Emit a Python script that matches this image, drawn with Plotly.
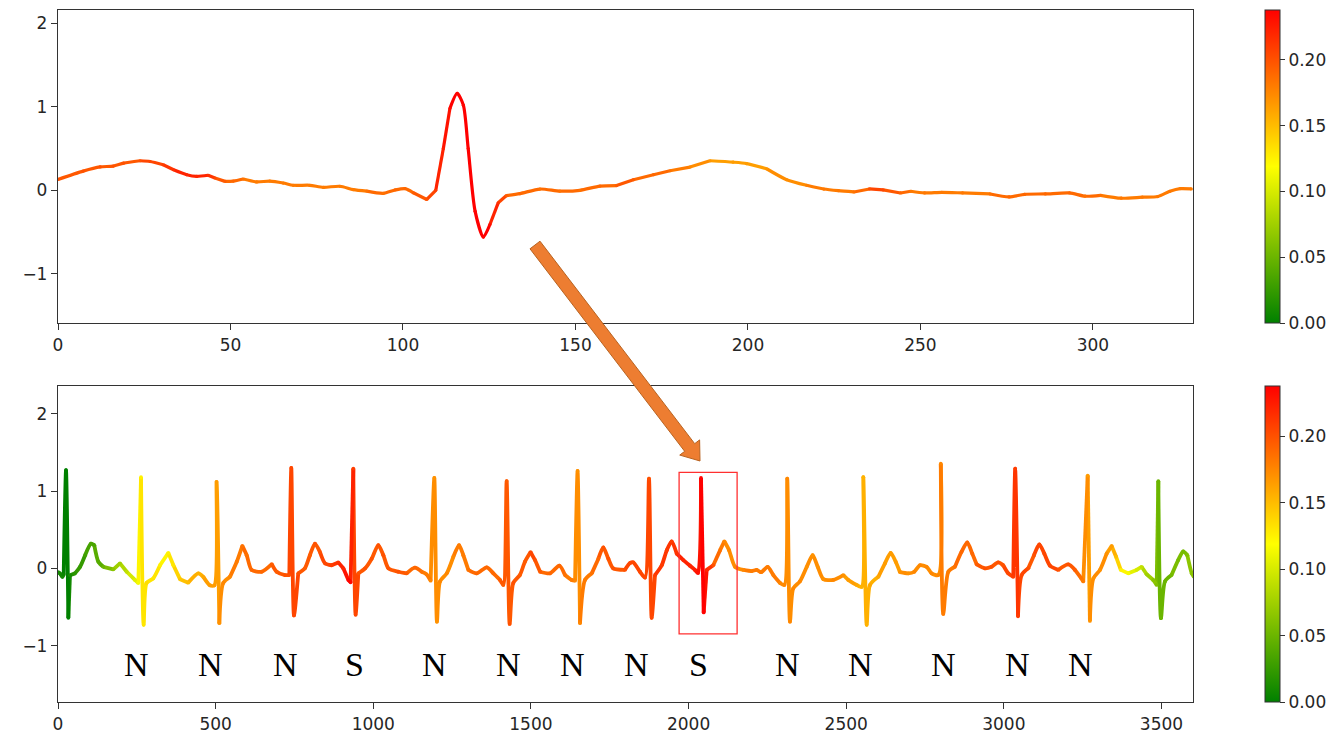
import math
import plotly.graph_objects as go

# ---------------- data ----------------
top_x = [0, 7.3, 12.2, 16, 19, 23.8, 26.7, 30.5, 33.5, 37.3, 40.2, 43.5, 45.5, 48.4, 50.8,
         53.7, 57.6, 61.4, 65.3, 68.2, 73, 76.9, 81.7, 85.6, 89.5, 94.3, 97.7, 100.6, 103,
         106.9, 109.5, 111.7, 113.6, 115.7, 117.5, 118.9, 120.9, 123.3, 125.2, 127.6, 130,
         133.9, 139.7, 145.5, 151.3, 157.1, 161.9, 166.8, 172.6, 177.4, 183.2, 189, 195.7,
         199.6, 205.4, 211.2, 217, 222, 226.2, 230.7, 235.2, 239.2, 244.2, 247.2, 251.2,
         256.2, 262.2, 270.2, 275.7, 280.2, 286.2, 293.2, 297.7, 302.2, 308.2, 314.3, 318.8,
         322.3, 325.3, 328.5]
top_y = [0.13, 0.23, 0.28, 0.29, 0.325, 0.354, 0.345, 0.306, 0.246, 0.187, 0.167, 0.18, 0.147,
         0.107, 0.11, 0.135, 0.1, 0.11, 0.087, 0.06, 0.06, 0.036, 0.048, 0.008, -0.01, -0.036,
         0.004, 0.02, -0.03, -0.11, 0.0, 0.5, 0.98, 1.16, 1.02, 0.5, -0.25, -0.56, -0.41,
         -0.15, -0.063, -0.04, 0.015, -0.01, 0.0, 0.05, 0.056, 0.127, 0.187, 0.234, 0.278,
         0.354, 0.337, 0.32, 0.258, 0.127, 0.06, 0.015, -0.005, -0.02, 0.016, 0.004, -0.032,
         -0.012, -0.032, -0.024, -0.032, -0.044, -0.08, -0.048, -0.044, -0.032, -0.071, -0.06,
         -0.095, -0.083, -0.075, -0.012, 0.02, 0.016]
top_w = [0.2, 0.2, 0.2, 0.2, 0.2, 0.2, 0.205, 0.21, 0.215, 0.22, 0.22, 0.215, 0.205,
         0.195, 0.19, 0.185, 0.18, 0.18, 0.18, 0.18, 0.18, 0.18, 0.18, 0.18, 0.185, 0.185,
         0.19, 0.19, 0.195, 0.2, 0.21, 0.225, 0.232, 0.236, 0.236, 0.236, 0.236, 0.236, 0.232,
         0.215, 0.195, 0.19, 0.185, 0.185, 0.185, 0.19, 0.195, 0.195, 0.19, 0.185, 0.175, 0.168,
         0.165, 0.165, 0.168, 0.172, 0.178, 0.182, 0.182, 0.185, 0.2, 0.205, 0.19, 0.182, 0.182,
         0.182, 0.182, 0.185, 0.19, 0.19, 0.19, 0.19, 0.185, 0.185, 0.182, 0.182, 0.182, 0.182,
         0.18, 0.18]

bot_x = [0, 6, 14, 18, 25.4, 32.8, 38, 54, 70, 86, 104.7, 115, 128, 143.8, 175.5, 196.7, 218, 244, 254.8,
         263.3, 271.7, 281, 302, 323.5, 350, 366, 387, 413, 445, 461, 482, 496,
         503, 511.7, 524, 545.5, 567, 584.7, 598.5, 614, 646, 678, 693.6, 720, 733.7,
         740, 748.5, 762, 783, 799, 815, 831, 847, 868, 889, 905, 921, 928,
         936.7, 944, 952.6, 974, 995, 1016, 1032, 1048, 1079.5, 1106, 1132, 1153.5, 1169, 1182,
         1193.6, 1202, 1211.6, 1233, 1254, 1272, 1285.6, 1301.5, 1328, 1360, 1381, 1402, 1412.4,
         1423, 1432.6, 1444, 1465, 1481, 1499, 1513, 1529, 1560.5, 1590, 1608, 1629, 1640,
         1648, 1655.7, 1671.5, 1693, 1714, 1729.6, 1745.5, 1761, 1798, 1815, 1825, 1846, 1862,
         1874.5, 1883, 1893.5, 1915, 1931, 1946.5, 1962.5, 1983.5, 2004.5, 2020.5, 2030,
         2039.5, 2048, 2057.5, 2078.5, 2100, 2113.5, 2128.5, 2147.5, 2174, 2200, 2216, 2230, 2251, 2269, 2290, 2304,
         2313, 2321.7, 2332, 2353, 2375, 2393.6, 2409.6, 2427.5, 2459, 2491, 2506.7, 2533, 2549,
         2554.3, 2565, 2575.5, 2602, 2623, 2641, 2657, 2670.6, 2697, 2716, 2734, 2755, 2771, 2792,
         2800, 2808, 2824, 2845, 2866, 2884, 2900, 2914, 2940, 2961, 2982, 2998, 3014, 3030,
         3036, 3045, 3056.6, 3077.6, 3095.7, 3112.6, 3128.4, 3146.5, 3172.8, 3204.5, 3225.7, 3244, 3252,
         3266, 3273, 3284, 3305, 3326, 3342, 3356, 3371, 3395, 3421, 3437, 3453, 3474, 3484.8,
         3490, 3498.4, 3511, 3532, 3553, 3569, 3582, 3596, 3603]
bot_y = [-0.05, -0.065, -0.11, -0.08, 1.27, -0.64, -0.09, -0.065, 0.02, 0.17, 0.32, 0.3, 0.085, 0.02, -0.013, 0.065, -0.044, -0.15, -0.19,
         1.18, -0.73, -0.19, -0.13, 0.04, 0.2, 0.04, -0.14, -0.185, -0.065, -0.11, -0.22, -0.22,
         1.12, -0.71, -0.19, -0.11, 0.085, 0.29, 0.17, -0.02, -0.044, 0.055, -0.044, -0.087, -0.087,
         1.3, -0.61, -0.065, 0.0, 0.17, 0.32, 0.21, 0.065, 0.04, 0.077, 0.0, -0.15, -0.18,
         1.29, -0.6, -0.065, 0.0, 0.125, 0.3, 0.17, 0.0, -0.044, -0.065, 0.008, -0.044, -0.077, -0.16,
         1.17, -0.69, -0.17, -0.065, 0.15, 0.3, 0.17, -0.02, -0.065, 0.013, -0.065, -0.15, -0.215,
         1.13, -0.72, -0.19, -0.087, 0.085, 0.21, 0.107, -0.044, -0.065, 0.034, -0.087, -0.15, -0.16,
         1.26, -0.71, -0.15, -0.065, 0.125, 0.27, 0.125, 0.0, -0.02, 0.07, 0.077, -0.044, -0.12,
         1.16, -0.64, -0.087, 0.04, 0.235, 0.35, 0.19, 0.107, 0.034, -0.02, -0.06,
         1.17, -0.57, -0.02, 0.04, 0.235, 0.35, 0.235, 0.02, -0.02, -0.035, -0.02, -0.05, 0.02, -0.087, -0.19, -0.215,
         1.16, -0.69, -0.26, -0.17, 0.02, 0.17, 0.02, -0.14, -0.15, -0.087, -0.15, -0.215, -0.24,
         1.18, -0.73, -0.215, -0.11, 0.065, 0.2, 0.085, -0.05, -0.065, -0.044, 0.04, 0.02, -0.065, -0.087,
         1.355, -0.59, -0.044, 0.02, 0.215, 0.335, 0.19, 0.05, 0.0, 0.02, 0.077, 0.04, -0.065, -0.11,
         1.29, -0.62, -0.087, 0.0, 0.17, 0.31, 0.19, 0.034, -0.02, 0.05, -0.02, -0.12, -0.17,
         1.2, -0.68, -0.13, -0.02, 0.19, 0.29, 0.15, -0.02, -0.065, -0.02, 0.02, -0.077, -0.15, -0.215,
         1.13, -0.645, -0.17, -0.087, 0.107, 0.22, 0.17, -0.065, -0.11]
bot_w = [0.01, 0.01, 0.01, 0.005, 0.0, 0.0, 0.01, 0.02, 0.025, 0.03, 0.035, 0.035, 0.04, 0.05, 0.065, 0.075, 0.09, 0.105, 0.115,
         0.125, 0.13, 0.135, 0.13, 0.125, 0.125, 0.13, 0.145, 0.15, 0.155, 0.16, 0.165, 0.165,
         0.165, 0.17, 0.175, 0.175, 0.18, 0.185, 0.185, 0.19, 0.19, 0.195, 0.195, 0.2, 0.2,
         0.205, 0.205, 0.2, 0.195, 0.195, 0.2, 0.2, 0.205, 0.21, 0.215, 0.22, 0.235, 0.235,
         0.21, 0.205, 0.2, 0.2, 0.2, 0.2, 0.2, 0.2, 0.2, 0.195, 0.19, 0.185, 0.18, 0.175,
         0.17, 0.17, 0.175, 0.175, 0.175, 0.18, 0.18, 0.185, 0.19, 0.19, 0.19, 0.195, 0.195,
         0.195, 0.2, 0.2, 0.195, 0.195, 0.205, 0.2, 0.195, 0.19, 0.19, 0.185, 0.18, 0.175,
         0.17, 0.175, 0.18, 0.185, 0.19, 0.2, 0.2, 0.2, 0.2, 0.205, 0.205, 0.205, 0.205,
         0.2, 0.205, 0.21, 0.21, 0.21, 0.21, 0.215, 0.22, 0.22, 0.225, 0.23,
         0.237, 0.237, 0.22, 0.2, 0.185, 0.175, 0.175, 0.175, 0.175, 0.18, 0.18, 0.18, 0.18, 0.18, 0.175, 0.175,
         0.175, 0.175, 0.175, 0.175, 0.17, 0.17, 0.17, 0.17, 0.175, 0.17, 0.165, 0.16, 0.155,
         0.155, 0.155, 0.16, 0.16, 0.165, 0.165, 0.165, 0.17, 0.17, 0.175, 0.175, 0.175, 0.175, 0.175,
         0.175, 0.18, 0.18, 0.185, 0.19, 0.19, 0.19, 0.195, 0.2, 0.2, 0.2, 0.2, 0.205, 0.21,
         0.21, 0.21, 0.205, 0.2, 0.2, 0.205, 0.205, 0.205, 0.2, 0.2, 0.195, 0.185, 0.18,
         0.165, 0.17, 0.17, 0.17, 0.17, 0.165, 0.15, 0.125, 0.115, 0.1, 0.09, 0.075, 0.065, 0.06,
         0.05, 0.05, 0.05, 0.055, 0.055, 0.055, 0.06, 0.065, 0.065]

beat_labels = ['N', 'N', 'N', 'S', 'N', 'N', 'N', 'N', 'S', 'N', 'N', 'N', 'N', 'N']
label_x = [250, 485, 720, 942, 1193, 1428, 1631, 1834, 2030, 2313, 2544, 2808, 3043, 3242]
label_y = -1.25
box_x = [1970, 2154]
box_y = [-0.848, 1.243]

W_MAX = 0.238
cbar_ticks = [0.0, 0.05, 0.10, 0.15, 0.20]
top_xticks = [0, 50, 100, 150, 200, 250, 300]
bot_xticks = [0, 500, 1000, 1500, 2000, 2500, 3000, 3500]
yticks = [-1, 0, 1, 2]

# ---------------- styling ----------------
OFF = 8                      # page body margin of the html page
W, H = 1342 - OFF, 739 - OFF
# plot-area edges in page pixels
LEFT, RIGHT = 58, 1193
TOP_T, TOP_B, BOT_T, BOT_B = 10, 323, 386, 702
ML, MR = LEFT - OFF, W - (RIGHT - OFF)
MT, MB = TOP_T - OFF, H - (BOT_B - OFF)
PW, PH = W - ML - MR, H - MT - MB


def py_to_paper(py):
    return (BOT_B - py) / PH


def px_to_paper(px):
    return (px - LEFT) / PW


TOP_DOM = [py_to_paper(TOP_B), 1.0]
BOT_DOM = [0.0, py_to_paper(BOT_T)]
CSCALE = [[0, 'rgb(0,128,0)'], [0.5, 'rgb(255,255,0)'], [1, 'rgb(255,0,0)']]
TICKFONT = dict(family='DejaVu Sans', size=17, color='#262626')
AX = '#333333'


def cmap(v):
    t = min(max(v / W_MAX, 0.0), 1.0)
    if t < 0.5:
        s = t / 0.5
        r, g = 255 * s, 128 + 127 * s
    else:
        s = (t - 0.5) / 0.5
        r, g = 255, 255 * (1 - s)
    return f'rgb({r:.0f},{g:.0f},0)'


def add_colored_line(fig, xs, ys, ws, xa, ya, width, nbins=30):
    n = len(xs)
    seg_bin = [int(round((ws[i] + ws[i + 1]) / 2 / W_MAX * (nbins - 1))) for i in range(n - 1)]
    groups = {}
    i = 0
    while i < n - 1:
        b = seg_bin[i]
        j = i
        while j + 1 < n - 1 and seg_bin[j + 1] == b:
            j += 1
        gx, gy = groups.setdefault(b, ([], []))
        if gx:
            gx.append(None)
            gy.append(None)
        gx.extend(xs[i:j + 2])
        gy.extend(ys[i:j + 2])
        i = j + 1
    for b, (gx, gy) in groups.items():
        fig.add_trace(go.Scatter(x=gx, y=gy, mode='lines', xaxis=xa, yaxis=ya,
                                 line=dict(color=cmap(b / (nbins - 1) * W_MAX), width=width,
                                           shape='spline', smoothing=0.7),
                                 connectgaps=False, hoverinfo='skip', showlegend=False))


def cbar(dom):
    return dict(x=px_to_paper(1265), xanchor='left', xpad=0, y=dom[0], yanchor='bottom',
                len=dom[1] - dom[0], lenmode='fraction', ypad=0, thickness=15,
                outlinewidth=1, outlinecolor=AX, ticks='outside', ticklen=5, tickwidth=1,
                tickcolor=AX, tickvals=cbar_ticks, tickformat='.2f', tickfont=TICKFONT)


TOP_LW, BOT_LW = 3.2, 3.8
fig = go.Figure()
add_colored_line(fig, top_x, top_y, top_w, 'x', 'y', TOP_LW)
add_colored_line(fig, bot_x, bot_y, bot_w, 'x2', 'y2', BOT_LW)

fig.add_trace(go.Scatter(x=top_x, y=top_y, mode='markers', xaxis='x', yaxis='y',
                         marker=dict(size=TOP_LW, color=top_w, colorscale=CSCALE, cmin=0, cmax=W_MAX,
                                     showscale=True, colorbar=cbar(TOP_DOM), line=dict(width=0)),
                         hoverinfo='skip', showlegend=False))
fig.add_trace(go.Scatter(x=bot_x, y=bot_y, mode='markers', xaxis='x2', yaxis='y2',
                         marker=dict(size=BOT_LW, color=bot_w, colorscale=CSCALE, cmin=0, cmax=W_MAX,
                                     showscale=True, colorbar=cbar(BOT_DOM), line=dict(width=0)),
                         hoverinfo='skip', showlegend=False))

axis_common = dict(showline=True, mirror=True, linecolor=AX, linewidth=1.3, showgrid=False,
                   zeroline=False, ticks='outside', ticklen=6, tickwidth=1.2, tickcolor=AX,
                   tickfont=TICKFONT, automargin=False)

fig.update_layout(
    width=W, height=H, margin=dict(l=ML, r=MR, t=MT, b=MB, pad=0, autoexpand=False),
    paper_bgcolor='white', plot_bgcolor='white', showlegend=False,
    xaxis=dict(domain=[0, 1], anchor='y', range=[0, 329], tickvals=top_xticks, **axis_common),
    yaxis=dict(domain=TOP_DOM, anchor='x', range=[-1.59, 2.16], tickvals=yticks, **axis_common),
    xaxis2=dict(domain=[0, 1], anchor='y2', range=[0, 3600], tickvals=bot_xticks, **axis_common),
    yaxis2=dict(domain=BOT_DOM, anchor='x2', range=[-1.73, 2.36], tickvals=yticks, **axis_common),
)

for lab, lx in zip(beat_labels, label_x):
    fig.add_annotation(x=lx, y=label_y, xref='x2', yref='y2', text=lab, showarrow=False,
                       font=dict(family='Liberation Serif', size=34, color='black'))

fig.add_shape(type='rect', xref='x2', yref='y2', x0=box_x[0], x1=box_x[1], y0=box_y[0], y1=box_y[1],
              line=dict(color='#FF3030', width=1.3), fillcolor='rgba(0,0,0,0)', layer='above')

# block arrow (decoration), defined in page pixels and converted to paper coordinates
tail = (535.0, 245.0)
tip = (700.0, 461.0)
dx, dy = tip[0] - tail[0], tip[1] - tail[1]
L = math.hypot(dx, dy)
ux, uy = dx / L, dy / L
nx, ny = -uy, ux
hw, hhw, hl = 6.3, 12.5, 17.0
neck = (tip[0] - hl * ux, tip[1] - hl * uy)
pts = [
    (tail[0] + hw * nx, tail[1] + hw * ny),
    (neck[0] + hw * nx, neck[1] + hw * ny),
    (neck[0] + hhw * nx, neck[1] + hhw * ny),
    tip,
    (neck[0] - hhw * nx, neck[1] - hhw * ny),
    (neck[0] - hw * nx, neck[1] - hw * ny),
    (tail[0] - hw * nx, tail[1] - hw * ny),
]

path = 'M ' + ' L '.join(f'{px_to_paper(p[0]):.5f},{py_to_paper(p[1]):.5f}' for p in pts) + ' Z'
fig.add_shape(type='path', xref='paper', yref='paper', path=path, fillcolor='#ED7D31',
              line=dict(color='#B8621F', width=1), layer='above')

fig.write_html('out.html')
